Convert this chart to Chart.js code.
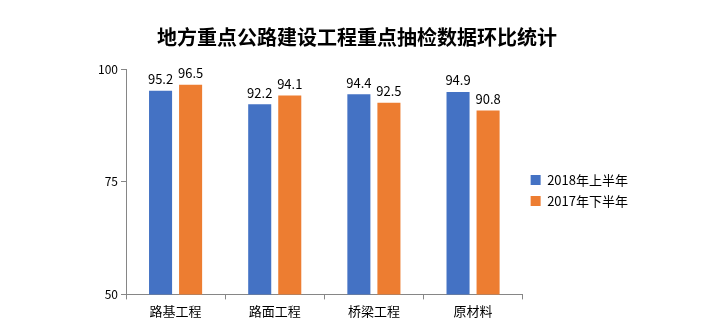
<!DOCTYPE html>
<html>
<head>
<meta charset="utf-8">
<script src="https://cdn.jsdelivr.net/npm/chart.js@4/dist/chart.umd.min.js"></script>
<style>
  html, body { margin: 0; padding: 0; background: #fff; }
  #wrap { width: 720px; height: 334px; }
</style>
</head>
<body>
<div id="wrap"><canvas id="graph" width="720" height="334"></canvas></div>
<script>
const categories = ['路基工程', '路面工程', '桥梁工程', '原材料']
const series2018H1 = [95.2, 92.2, 94.4, 94.9]
const series2017H2 = [96.5, 94.1, 92.5, 90.8]
const seriesNames = ['2018年上半年', '2017年下半年']
const yTicks = [50, 75, 100]

const FONT = '"Noto Sans CJK SC", "Liberation Sans", sans-serif'

// draw the value above each bar
const valueLabels = {
    id: 'valueLabels',
    afterDatasetsDraw(chart) {
        const ctx = chart.ctx
        ctx.save()
        ctx.font = '13px ' + FONT
        ctx.fillStyle = '#000'
        ctx.textAlign = 'center'
        ctx.textBaseline = 'bottom'
        chart.data.datasets.forEach((ds, i) => {
            chart.getDatasetMeta(i).data.forEach((bar, j) => {
                ctx.fillText(ds.data[j].toFixed(1), bar.x, bar.y - 5)
            })
        })
        ctx.restore()
    }
}

const ctx = document.getElementById('graph').getContext('2d')

const config = {
    type: 'bar',
    data: {
        labels: categories,
        datasets: [{
            label: seriesNames[0],
            data: series2018H1,
            backgroundColor: '#4472C4',
            categoryPercentage: 0.606,
            barPercentage: 0.767,
            inflateAmount: 0
        }, {
            label: seriesNames[1],
            data: series2017H2,
            backgroundColor: '#ED7D31',
            categoryPercentage: 0.606,
            barPercentage: 0.767,
            inflateAmount: 0
        }]
    },
    options: {
        responsive: false,
        animation: false,
        layout: { padding: { left: 76, right: 82, top: 0, bottom: 11 } },
        plugins: {
            title: {
                display: true,
                text: '地方重点公路建设工程重点抽检数据环比统计',
                color: '#000',
                font: { family: FONT, size: 20, weight: 'bold' },
                padding: { top: 25, bottom: 20 }
            },
            legend: {
                position: 'right',
                fullSize: false,
                title: {
                    display: true,
                    text: ' ',
                    font: { size: 8 },
                    padding: 4
                },
                labels: {
                    boxWidth: 10,
                    boxHeight: 10,
                    padding: 8,
                    color: '#000',
                    font: { family: FONT, size: 13 }
                }
            },
            tooltip: { enabled: false }
        },
        scales: {
            x: {
                grid: {
                    drawOnChartArea: false,
                    drawTicks: true,
                    tickLength: 5,
                    color: '#868686'
                },
                border: { color: '#868686', width: 1 },
                ticks: { color: '#000', font: { family: FONT, size: 13 }, padding: 4 }
            },
            y: {
                min: 50,
                max: 100,
                afterBuildTicks(scale) {
                    scale.ticks = yTicks.map(v => ({ value: v }))
                },
                grid: {
                    drawOnChartArea: false,
                    drawTicks: true,
                    tickLength: 5,
                    color: '#868686'
                },
                border: { color: '#868686', width: 1 },
                ticks: { color: '#000', font: { family: FONT, size: 12 }, padding: 3 },
                afterFit(scale) { scale.width = 50 }
            }
        }
    },
    plugins: [valueLabels]
}

const graph = new Chart(ctx, config)
</script>
</body>
</html>
